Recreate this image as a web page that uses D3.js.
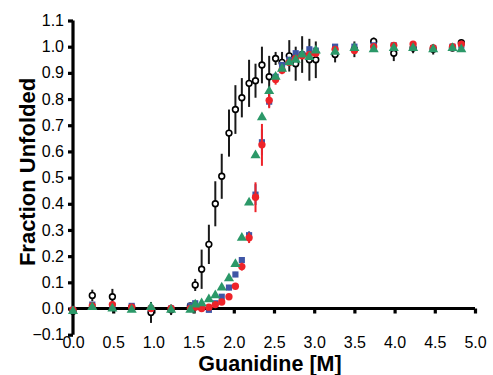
<!DOCTYPE html>
<html>
<head>
<meta charset="utf-8">
<script src="https://cdn.jsdelivr.net/npm/d3@7"></script>
<style>
  html, body { margin: 0; padding: 0; background: #fff; }
  svg { display: block; font-family: Arial, 'Liberation Sans', sans-serif; }
</style>
</head>
<body>
<div id="chart"></div>
<script>
// Guanidine concentration (M) shared by all four series
const conc = [0, 0.24, 0.49, 0.73, 0.97, 1.22, 1.46, 1.52, 1.60, 1.69, 1.77, 1.85, 1.94, 2.02,
  2.10, 2.19, 2.27, 2.35, 2.44, 2.52, 2.60, 2.69, 2.77, 2.85, 2.94, 3.02, 3.26, 3.50, 3.74,
  3.99, 4.23, 4.48, 4.72, 4.83];

// open black circles
const blackY = [-0.01, 0.05, 0.045, 0.005, -0.015, -0.005, 0.01, 0.09, 0.15, 0.245, 0.40, 0.505,
  0.67, 0.76, 0.805, 0.86, 0.87, 0.93, 0.885, 0.955, 0.94, 0.965, 0.935, 0.97, 0.95, 0.95,
  0.97, 0.99, 1.02, 0.975, 0.995, 0.99, 0.995, 1.015];
const blackErr = [0.01, 0.022, 0.03, 0.01, 0.04, 0.02, 0.01, 0.023, 0.075, 0.075, 0.086, 0.086,
  0.09, 0.093, 0.075, 0.09, 0.065, 0.07, 0.08, 0.025, 0.04, 0.06, 0.065, 0.07, 0.08, 0.07,
  0.03, 0.03, 0.015, 0.03, 0.02, 0.02, 0.01, 0.01];

// red filled circles
const redY = [-0.005, 0.01, 0.015, 0.005, 0, 0, 0, 0.005, 0, 0.005, 0.015, 0.025, 0.045, 0.085,
  0.16, 0.27, 0.425, 0.625, 0.795, 0.875, 0.91, 0.94, 0.955, 0.965, 0.97, 0.975, 0.99, 0.985,
  1.0, 1.005, 1.01, 0.995, 1.0, 1.01];
const redErr = [0, 0, 0, 0, 0, 0, 0, 0, 0, 0, 0, 0, 0.01, 0.01, 0.015, 0.02, 0.057, 0.08, 0.03,
  0.02, 0.015, 0.01, 0.01, 0.01, 0.01, 0.01, 0.01, 0.01, 0.01, 0.01, 0.01, 0.01, 0.01, 0.01];

// blue filled squares
const blueY = [-0.005, 0.015, 0.01, 0.01, 0, 0, 0.01, 0.02, 0.005, -0.005, 0.02, 0.045, 0.08,
  0.13, 0.185, 0.28, 0.435, 0.635, 0.79, 0.885, 0.93, 0.95, 0.975, 0.97, 0.99, 0.985, 1.0, 1.0,
  1.005, 1.005, 1.0, 0.995, 1.0, 1.005];
const blueErr = [0, 0, 0, 0, 0, 0, 0, 0, 0, 0, 0, 0, 0.01, 0.01, 0.01, 0.015, 0.04, 0.05, 0.02,
  0.015, 0.01, 0.01, 0.01, 0.01, 0.01, 0.01, 0.01, 0.01, 0.01, 0.01, 0.01, 0.01, 0.01, 0.01];

// green triangles
const greenY = [-0.01, 0.005, 0, -0.005, 0.005, -0.005, -0.005, 0.015, 0.02, 0.035, 0.05, 0.08,
  0.115, 0.17, 0.27, 0.405, 0.585, 0.73, 0.83, 0.885, 0.915, 0.94, 0.95, 0.97, 0.96, 0.985,
  0.98, 0.995, 0.99, 0.995, 0.995, 0.99, 0.995, 0.99];

const xTicks = [0, 0.5, 1, 1.5, 2, 2.5, 3, 3.5, 4, 4.5, 5];
const yTicks = [-0.1, 0, 0.1, 0.2, 0.3, 0.4, 0.5, 0.6, 0.7, 0.8, 0.9, 1.0, 1.1];

const W = 493, H = 375;
const x = d3.scaleLinear().domain([0, 5]).range([73, 475]);
const y = d3.scaleLinear().domain([-0.1, 1.1]).range([334.7, 20.5]);

const svg = d3.select('#chart').append('svg')
  .attr('width', W).attr('height', H);

// axes: y axis at x=0, x axis at y=0
const yAxis = svg.append('g')
  .attr('transform', `translate(${x(0)},0)`)
  .call(d3.axisLeft(y).tickValues(yTicks).tickSize(5).tickPadding(4)
    .tickFormat(d3.format('.1f')));
const xAxis = svg.append('g')
  .attr('transform', `translate(0,${y(0)})`)
  .call(d3.axisBottom(x).tickValues(xTicks).tickSize(5).tickPadding(0)
    .tickFormat(d3.format('.1f')));

[yAxis, xAxis].forEach(g => {
  g.select('.domain').attr('stroke', '#000').attr('stroke-width', 3.2);
  g.selectAll('.tick line').attr('stroke', '#000').attr('stroke-width', 3.2);
  g.selectAll('.tick text').attr('fill', '#000')
    .style('font-size', '16px').style('font-family', "Arial, 'Liberation Sans', sans-serif");
});
// x labels sit well below the axis line (the y axis reaches down to -0.1)
xAxis.selectAll('.tick text').attr('y', 28);
// the x axis line starts at the y axis
xAxis.select('.domain').attr('d', `M${x(0)},0H${x(5)}`);
yAxis.select('.domain').attr('d', `M0,${y(-0.1)}V${y(1.1)}`);

// axis titles
svg.append('text')
  .attr('x', x(2.45)).attr('y', 371)
  .attr('text-anchor', 'middle')
  .style('font-size', '21.5px').style('font-weight', 'bold')
  .text('Guanidine [M]');
svg.append('text')
  .attr('transform', 'translate(35,172) rotate(-90)')
  .attr('text-anchor', 'middle')
  .style('font-size', '22px').style('font-weight', 'bold')
  .text('Fraction Unfolded');

const pts = (ys, errs) => conc.map((c, i) => ({ c, v: ys[i], e: errs ? errs[i] : 0 }));

const drawErr = (data, color, width) => svg.append('g')
  .selectAll('line').data(data.filter(d => d.e > 0)).join('line')
  .attr('x1', d => x(d.c)).attr('x2', d => x(d.c))
  .attr('y1', d => y(d.v - d.e)).attr('y2', d => y(d.v + d.e))
  .attr('stroke', color).attr('stroke-width', width);

const drawSym = (data, type, size, fill, stroke, sw) => svg.append('g')
  .selectAll('path').data(data).join('path')
  .attr('transform', d => `translate(${x(d.c)},${y(d.v)})`)
  .attr('d', d3.symbol().type(type).size(size))
  .attr('fill', fill)
  .attr('stroke', stroke).attr('stroke-width', sw);

// black open circles with error bars
const black = pts(blackY, blackErr);
drawErr(black, '#1a1a1a', 2);
drawSym(black, d3.symbolCircle, 26, '#fff', '#000', 1.6);

// blue squares
const blue = pts(blueY, blueErr);
drawErr(blue, '#3f56a6', 2);
drawSym(blue, d3.symbolSquare, 38, '#3f56a6', 'none', 0);

// red circles
const red = pts(redY, redErr);
drawErr(red, '#ee2329', 2);
drawSym(red, d3.symbolCircle, 42, '#ee2329', 'none', 0);

// green triangles
drawSym(pts(greenY), d3.symbolTriangle, 44, '#2b9868', 'none', 0);
</script>
</body>
</html>
